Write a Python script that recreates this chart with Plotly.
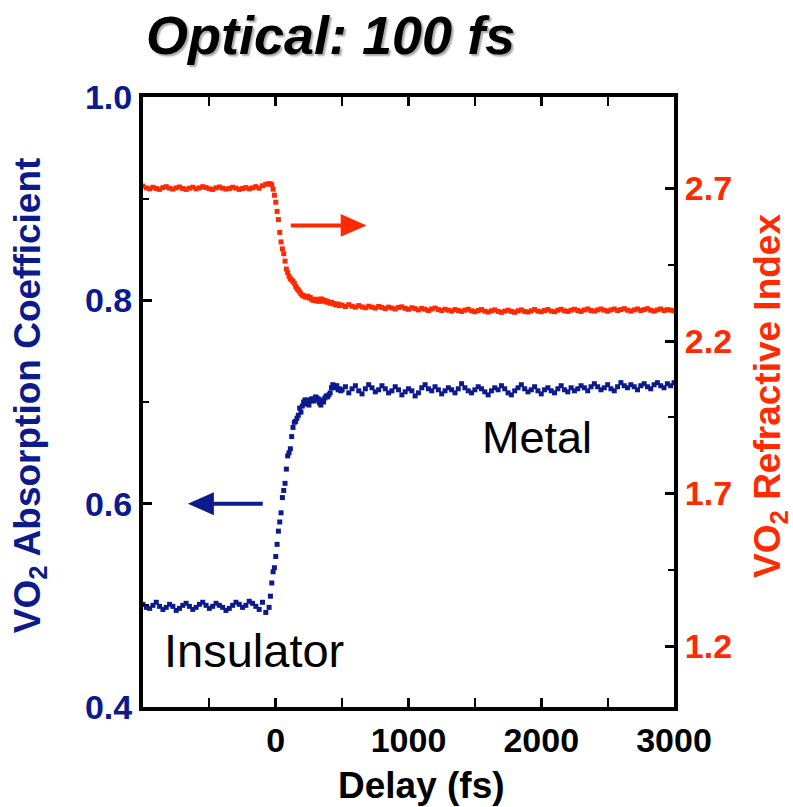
import plotly.graph_objects as go

BLUE = "#0c1a8c"
RED = "#ff2a00"
FONT = "Liberation Sans, Arial, Helvetica, sans-serif"

# Delay (fs)
delay = [
    -1000, -975, -950, -925, -900, -875, -850, -825, -800, -775,
    -750, -725, -700, -675, -650, -625, -600, -575, -550, -525,
    -500, -475, -450, -425, -400, -375, -350, -325, -300, -275,
    -250, -225, -200, -175, -150, -125, -100, -75, -50,
    -40, -30, -20, -10, 0, 10, 20, 30, 40, 50, 60, 70, 80, 90,
    100, 110, 120, 130, 140, 150, 160, 170, 180, 190,
    200, 210, 220, 230, 240, 250, 260, 270, 280, 290,
    300, 310, 320, 330, 340, 350, 360, 370, 380, 390,
    400, 410, 420, 430, 440, 450, 460, 470, 480, 490,
    500, 525, 550, 575, 600, 625, 650, 675, 700, 725,
    750, 775, 800, 825, 850, 875, 900, 925, 950, 975,
    1000, 1025, 1050, 1075, 1100, 1125, 1150, 1175, 1200, 1225,
    1250, 1275, 1300, 1325, 1350, 1375, 1400, 1425, 1450, 1475,
    1500, 1525, 1550, 1575, 1600, 1625, 1650, 1675, 1700, 1725,
    1750, 1775, 1800, 1825, 1850, 1875, 1900, 1925, 1950, 1975,
    2000, 2025, 2050, 2075, 2100, 2125, 2150, 2175, 2200, 2225,
    2250, 2275, 2300, 2325, 2350, 2375, 2400, 2425, 2450, 2475,
    2500, 2525, 2550, 2575, 2600, 2625, 2650, 2675, 2700, 2725,
    2750, 2775, 2800, 2825, 2850, 2875, 2900, 2925, 2950, 2975,
    3000,
]

# VO2 absorption coefficient (left axis)
absorption = [
    0.501, 0.498, 0.497, 0.500, 0.503, 0.499, 0.496, 0.498, 0.501, 0.499,
    0.495, 0.497, 0.500, 0.502, 0.499, 0.496, 0.498, 0.501, 0.503, 0.500,
    0.497, 0.499, 0.502, 0.500, 0.498, 0.495, 0.497, 0.500, 0.503, 0.501,
    0.498, 0.500, 0.504, 0.502, 0.499, 0.496, 0.503, 0.493, 0.498,
    0.509, 0.522, 0.533, 0.537, 0.548, 0.560, 0.573, 0.582, 0.591, 0.606,
    0.613, 0.620, 0.634, 0.647, 0.650, 0.654, 0.666, 0.675, 0.680, 0.681,
    0.684, 0.687, 0.694, 0.690, 0.696, 0.700, 0.702, 0.698, 0.702, 0.697,
    0.701, 0.703, 0.703, 0.701, 0.705, 0.704, 0.703, 0.699, 0.697, 0.702,
    0.700, 0.704, 0.706, 0.705, 0.707, 0.709, 0.714, 0.717, 0.716, 0.714,
    0.716, 0.712, 0.713, 0.711,
    0.712, 0.715, 0.709, 0.713, 0.716, 0.711, 0.708, 0.713, 0.717, 0.714,
    0.710, 0.712, 0.716, 0.713, 0.709, 0.711, 0.715, 0.712, 0.707, 0.710,
    0.713, 0.711, 0.706, 0.709, 0.714, 0.717, 0.713, 0.711, 0.715, 0.712,
    0.708, 0.711, 0.714, 0.712, 0.709, 0.713, 0.718, 0.714, 0.711, 0.709,
    0.712, 0.715, 0.713, 0.710, 0.707, 0.711, 0.714, 0.712, 0.716, 0.713,
    0.709, 0.707, 0.711, 0.714, 0.717, 0.713, 0.710, 0.712, 0.715, 0.711,
    0.708, 0.712, 0.714, 0.711, 0.709, 0.713, 0.716, 0.712, 0.710, 0.714,
    0.711, 0.713, 0.716, 0.714, 0.711, 0.715, 0.718, 0.715, 0.712, 0.714,
    0.717, 0.713, 0.711, 0.715, 0.719, 0.716, 0.714, 0.717, 0.715, 0.712,
    0.716, 0.718, 0.715, 0.713, 0.717, 0.719, 0.716, 0.714, 0.718, 0.716,
    0.719,
]

# VO2 refractive index (right axis)
refractive = [
    2.708, 2.702, 2.699, 2.704, 2.700, 2.697, 2.703, 2.706, 2.701, 2.698,
    2.702, 2.705, 2.700, 2.697, 2.701, 2.704, 2.699, 2.702, 2.706, 2.703,
    2.699, 2.697, 2.702, 2.705, 2.701, 2.698, 2.700, 2.704, 2.701, 2.697,
    2.700, 2.703, 2.699, 2.702, 2.706, 2.701, 2.709, 2.714, 2.716,
    2.715, 2.712, 2.698, 2.678, 2.655, 2.625, 2.598, 2.556, 2.525, 2.502,
    2.486, 2.462, 2.436, 2.424, 2.412, 2.404, 2.400, 2.395, 2.389, 2.379,
    2.372, 2.367, 2.361, 2.355, 2.350, 2.348, 2.345, 2.344, 2.347, 2.341,
    2.343, 2.337, 2.334, 2.333, 2.337, 2.331, 2.334, 2.330, 2.338, 2.336,
    2.331, 2.333, 2.328, 2.330, 2.326, 2.324, 2.327, 2.322, 2.323, 2.319,
    2.318, 2.321, 2.316, 2.318,
    2.317, 2.313, 2.319, 2.314, 2.311, 2.316, 2.312, 2.309, 2.314, 2.311,
    2.308, 2.313, 2.310, 2.306, 2.311, 2.308, 2.305, 2.310, 2.312, 2.307,
    2.304, 2.309, 2.306, 2.302, 2.307, 2.304, 2.300, 2.305, 2.308, 2.303,
    2.300, 2.304, 2.301, 2.298, 2.303, 2.300, 2.297, 2.301, 2.304, 2.299,
    2.296, 2.300, 2.303, 2.298, 2.295, 2.299, 2.302, 2.297, 2.294, 2.298,
    2.301, 2.297, 2.294, 2.299, 2.302, 2.297, 2.295, 2.299, 2.303, 2.298,
    2.296, 2.300, 2.303, 2.298, 2.296, 2.301, 2.304, 2.299, 2.297, 2.301,
    2.304, 2.300, 2.297, 2.302, 2.305, 2.300, 2.298, 2.302, 2.305, 2.301,
    2.298, 2.302, 2.305, 2.300, 2.303, 2.306, 2.301, 2.298, 2.302, 2.305,
    2.300, 2.303, 2.306, 2.301, 2.298, 2.302, 2.305, 2.300, 2.303, 2.301,
    2.299,
]

x_ticks = [0, 1000, 2000, 3000]
x_minor = [-500, 500, 1500, 2500]
left_ticks = [0.4, 0.6, 0.8, 1.0]
left_labels = ["0.4", "0.6", "0.8", "1.0"]
left_minor = [0.5, 0.7, 0.9]
right_ticks = [1.2, 1.7, 2.2, 2.7]
right_minor = [1.45, 1.95, 2.45]

fig = go.Figure()
fig.add_trace(go.Scatter(
    x=delay, y=absorption, mode="markers", yaxis="y",
    marker=dict(symbol="square", size=5, color=BLUE, line=dict(width=0)),
    showlegend=False,
))
fig.add_trace(go.Scatter(
    x=delay, y=refractive, mode="markers", yaxis="y2",
    marker=dict(symbol="square", size=5, color=RED, line=dict(width=0)),
    showlegend=False,
))

axis_common = dict(
    showgrid=False, zeroline=False, showline=True, linecolor="black",
    linewidth=4, ticks="inside", ticklen=9, tickwidth=3, tickcolor="black",
)

fig.update_layout(
    width=793, height=807,
    margin=dict(l=143, r=119, t=97, b=100, pad=0),
    plot_bgcolor="white", paper_bgcolor="white",
    font=dict(family=FONT),
    xaxis=dict(
        **axis_common, range=[-1000, 3000], tickvals=x_ticks,
        ticktext=[str(v) for v in x_ticks], mirror="allticks",
        tickfont=dict(family=FONT, size=34, color="black", weight="bold"),
        minor=dict(tickvals=x_minor, ticks="inside", ticklen=6, tickwidth=2,
                   tickcolor="black"),
    ),
    yaxis=dict(
        **axis_common, range=[0.4, 1.0], tickvals=left_ticks,
        ticktext=left_labels,
        tickfont=dict(family=FONT, size=34, color=BLUE, weight="bold"),
        minor=dict(tickvals=left_minor, ticks="inside", ticklen=6, tickwidth=2,
                   tickcolor="black"),
    ),
    yaxis2=dict(
        **axis_common, range=[1.0, 3.0], overlaying="y", side="right",
        tickvals=right_ticks, ticktext=[str(v) for v in right_ticks],
        tickfont=dict(family=FONT, size=34, color=RED, weight="bold"),
        minor=dict(tickvals=right_minor, ticks="inside", ticklen=6,
                   tickwidth=2, tickcolor="black"),
    ),
)

# Arrows
fig.add_shape(type="line", xref="x", yref="y", x0=-98, y0=0.600, x1=-470,
              y1=0.600, line=dict(color=BLUE, width=4))
fig.add_shape(type="path", xref="x", yref="y",
              path="M -466,0.6113 L -662,0.600 L -466,0.5887 Z",
              fillcolor=BLUE, line=dict(color=BLUE, width=0))
fig.add_shape(type="line", xref="x", yref="y2", x0=113, y0=2.579, x1=493,
              y1=2.579, line=dict(color=RED, width=4))
fig.add_shape(type="path", xref="x", yref="y2",
              path="M 489,2.6166 L 684,2.579 L 489,2.5414 Z",
              fillcolor=RED, line=dict(color=RED, width=0))

# Texts
fig.add_annotation(text="Optical: 100 fs", xref="paper", yref="paper",
                   x=0.354, y=1.102, xanchor="center", yanchor="middle",
                   showarrow=False,
                   font=dict(family=FONT, size=54, color="black",
                             weight="bold", style="italic",
                             shadow="2px 2px 2px rgba(0,0,0,0.35)"))
fig.add_annotation(text="Delay (fs)", xref="paper", yref="paper",
                   x=0.525, y=-0.128, xanchor="center", yanchor="middle",
                   showarrow=False,
                   font=dict(family=FONT, size=37, color="black",
                             weight="bold"))
fig.add_annotation(text="VO<sub>2</sub> Absorption Coefficient",
                   xref="paper", yref="paper", x=-0.213, y=0.511,
                   xanchor="center", yanchor="middle", textangle=-90,
                   showarrow=False,
                   font=dict(family=FONT, size=37, color=BLUE, weight="bold"))
fig.add_annotation(text="VO<sub>2</sub> Refractive Index",
                   xref="paper", yref="paper", x=1.181, y=0.510,
                   xanchor="center", yanchor="middle", textangle=-90,
                   showarrow=False,
                   font=dict(family=FONT, size=37, color=RED, weight="bold"))
fig.add_annotation(text="Metal", xref="x", yref="y", x=1970, y=0.665,
                   xanchor="center", yanchor="middle", showarrow=False,
                   font=dict(family=FONT, size=45, color="black"))
fig.add_annotation(text="Insulator", xref="x", yref="y", x=-165, y=0.456,
                   xanchor="center", yanchor="middle", showarrow=False,
                   font=dict(family=FONT, size=47, color="black"))

fig.write_html("out.html")
